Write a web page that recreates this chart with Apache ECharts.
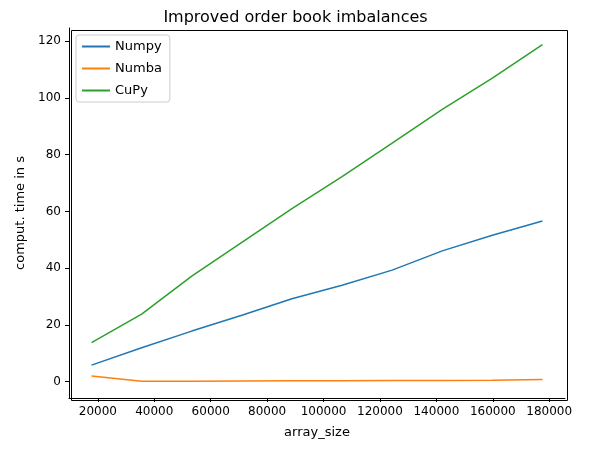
<!DOCTYPE html>
<html>
<head>
<meta charset="utf-8">
<script src="https://cdn.jsdelivr.net/npm/echarts@6/dist/echarts.min.js"></script>
<style>html,body{margin:0;padding:0;background:#fff}#chart{width:591px;height:458px}</style>
</head>
<body>
<div id="chart"></div>
<script>
const arraySize = [17760, 35520, 53280, 71040, 88800, 106560, 124320, 142080, 159840, 177600];
const numpy = [5.8, 11.9, 17.8, 23.4, 29.2, 34.0, 39.3, 46.1, 51.6, 56.6];
const numba = [2.0, 0.1, 0.15, 0.2, 0.25, 0.3, 0.35, 0.4, 0.5, 0.7];
const cupy = [13.7, 23.8, 37.2, 49.1, 61.0, 72.3, 84.1, 96.0, 107.0, 118.8];
const xTicks = [20000, 40000, 60000, 80000, 100000, 120000, 140000, 160000, 180000];
const yTicks = [0, 20, 40, 60, 80, 100, 120];

const myChart = echarts.init(document.getElementById('chart'));
const font = 'DejaVu Sans';
function pairs(ys) {
    return ys.map(function (y, i) { return [arraySize[i], y]; });
}
function line(name, ys, color) {
    return {
        name: name, type: 'line', data: pairs(ys), symbol: 'none',
        lineStyle: { color: color, width: 1.5 }, itemStyle: { color: color }
    };
}
const option = {
    animation: false,
    textStyle: { fontFamily: font },
    title: {
        text: 'Improved order book imbalances', left: 'center', top: 5,
        textStyle: { fontFamily: font, fontSize: 16, fontWeight: 'normal', color: '#000' }
    },
    legend: {
        orient: 'vertical', left: 76, top: 35, padding: [5, 8, 5, 6],
        borderColor: '#ccc', borderWidth: 1, borderRadius: 3,
        itemWidth: 28, itemHeight: 2, itemGap: 9,
        icon: 'rect',
        textStyle: { fontFamily: font, fontSize: 13, color: '#000' },
        data: ['Numpy', 'Numba', 'CuPy']
    },
    grid: { left: 69, right: 26, top: 28, bottom: 60 },
    xAxis: {
        type: 'value', min: 9768, max: 185592,
        name: 'array_size', nameLocation: 'middle', nameGap: 28,
        nameTextStyle: { fontFamily: font, fontSize: 13, color: '#000' },
        axisLine: { onZero: false, lineStyle: { color: '#000' } },
        axisTick: { show: true, length: 4, lineStyle: { color: '#000' }, customValues: xTicks },
        axisLabel: {
            color: '#000', fontSize: 12, fontFamily: font, customValues: xTicks,
            formatter: function (v) { return String(v); }
        },
        splitLine: { show: false }
    },
    yAxis: {
        type: 'value', min: -5.8, max: 124.7,
        name: 'comput. time in s', nameLocation: 'middle', nameGap: 40,
        nameTextStyle: { fontFamily: font, fontSize: 13, color: '#000' },
        axisLine: { show: true, onZero: false, lineStyle: { color: '#000' } },
        axisTick: { show: true, length: 4, lineStyle: { color: '#000' }, customValues: yTicks },
        axisLabel: { color: '#000', fontSize: 12, fontFamily: font, customValues: yTicks },
        splitLine: { show: false }
    },
    series: [
        line('Numpy', numpy, '#1f77b4'),
        line('Numba', numba, '#ff7f0e'),
        line('CuPy', cupy, '#2ca02c')
    ],
    // frame on top and right like matplotlib
    graphic: [{
        type: 'rect', left: 69, top: 28, shape: { width: 591 - 69 - 26, height: 458 - 28 - 60 },
        style: { fill: 'none', stroke: '#000', lineWidth: 1 }, silent: true
    }]
};
myChart.setOption(option);
</script>
</body>
</html>
